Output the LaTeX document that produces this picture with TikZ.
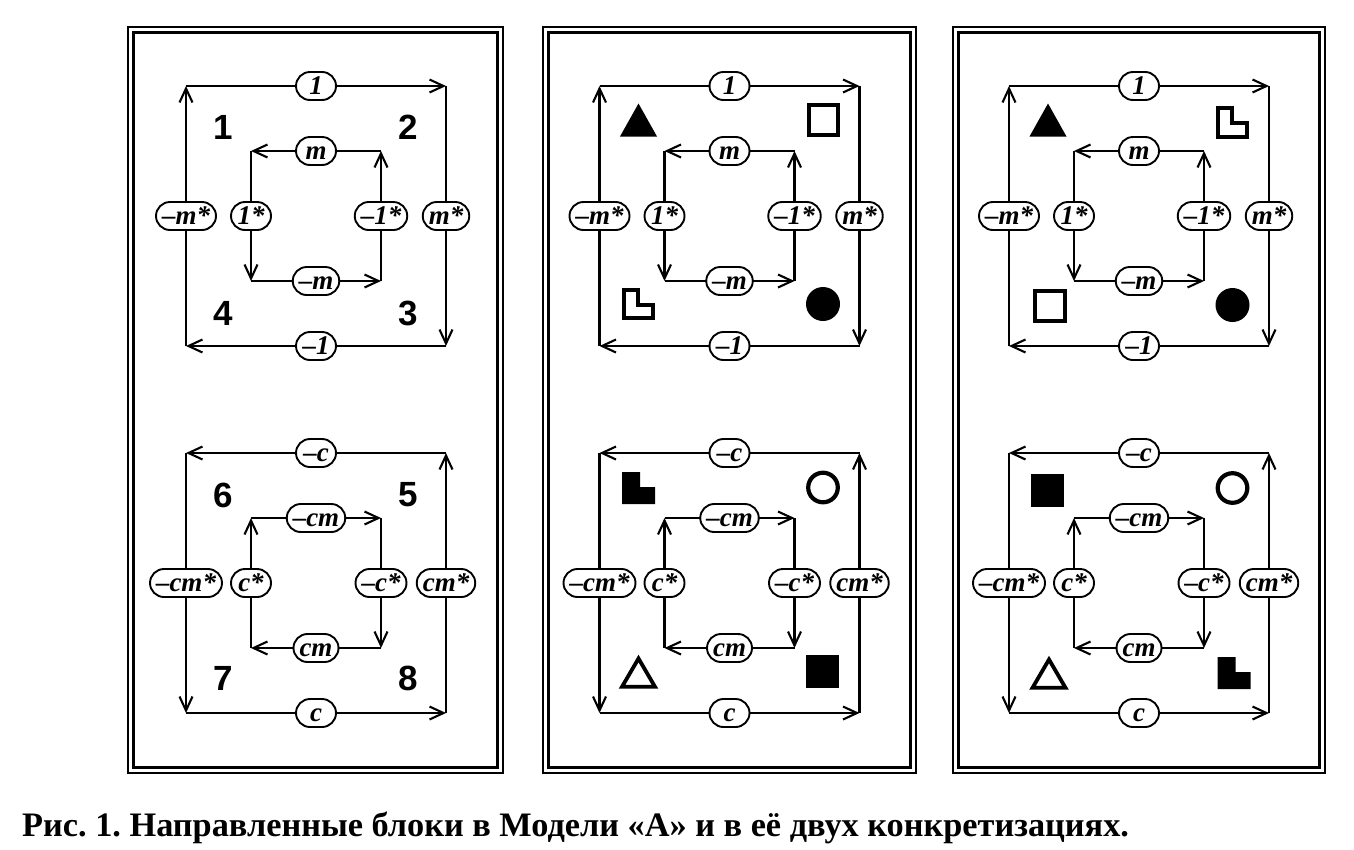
\documentclass[tikz,border=0pt]{standalone}
\usepackage{fontspec}
\setmainfont{Liberation Serif}
\newfontfamily\numfont{Liberation Sans}
\usetikzlibrary{arrows.meta}
\frenchspacing
\tikzset{
  arr/.style={line width=2.1pt, -{Straight Barb[length=14pt,width=13pt]}},
  pill/.style={draw, line width=1.9pt, fill=white, rectangle, rounded corners=14pt,
    minimum height=28pt, minimum width=40pt, inner xsep=6pt, inner ysep=0pt,
    text height=18pt, text depth=2pt,
    font=\fontsize{27}{27}\selectfont\bfseries\itshape},
  bignum/.style={font=\numfont\bfseries\fontsize{35}{35}\selectfont, inner sep=0pt},
  frameout/.style={line width=2.6pt},
  framein/.style={line width=2.1pt},
  openshape/.style={line width=3.8pt, line join=miter},
}
% shapes (local coordinates, y downward)
\newcommand{\trifill}[2]{\fill (#1-18.5,#2+16.5) -- (#1+18.5,#2+16.5) -- (#1,#2-16.5) -- cycle;}
\newcommand{\triopen}[2]{\draw[openshape] (#1-16.5,#2+14.8) -- (#1+16.5,#2+14.8) -- (#1,#2-13.5) -- cycle;}
\newcommand{\sqfill}[2]{\fill (#1-16.5,#2-16.5) rectangle (#1+16.5,#2+16.5);}
\newcommand{\sqopen}[2]{\draw[openshape] (#1-14.8,#2-14.8) rectangle (#1+14.8,#2+14.8);}
\newcommand{\cirfill}[2]{\fill (#1,#2) circle (17);}
\newcommand{\ciropen}[2]{\draw[line width=4.2pt] (#1,#2) circle (14.8);}
\newcommand{\Lfill}[2]{\fill (#1-16.5,#2-16) -- (#1+1.5,#2-16) -- (#1+1.5,#2-1) -- (#1+16.5,#2-1) -- (#1+16.5,#2+16) -- (#1-16.5,#2+16) -- cycle;}
\newcommand{\Lopen}[2]{\draw[openshape] (#1-14.8,#2-14.3) -- (#1-0.2,#2-14.3) -- (#1-0.2,#2+0.7) -- (#1+14.8,#2+0.7) -- (#1+14.8,#2+14.3) -- (#1-14.8,#2+14.3) -- cycle;}
% upper block: #1 prefix, #2 cx, #3 cy
\newcommand{\upblock}[3]{%
  \begin{scope}[shift={(#2,#3)}]
    \coordinate (#1a) at (-130,-130); \coordinate (#1b) at (130,-130);
    \coordinate (#1c) at (130,130);   \coordinate (#1d) at (-130,130);
    \coordinate (#1e) at (-65,-65);   \coordinate (#1f) at (65,-65);
    \coordinate (#1g) at (65,65);     \coordinate (#1h) at (-65,65);
    \draw[arr] (#1a) -- node[pill] (#1p1) {1} (#1b);
    \draw[arr] (#1b) -- node[pill] (#1p2) {m*} (#1c);
    \draw[arr] (#1c) -- node[pill] (#1p3) {–1} (#1d);
    \draw[arr] (#1d) -- node[pill] (#1p4) {–m*} (#1a);
    \draw[arr] (#1f) -- node[pill] (#1p5) {m} (#1e);
    \draw[arr] (#1e) -- node[pill] (#1p6) {1*} (#1h);
    \draw[arr] (#1h) -- node[pill] (#1p7) {–m} (#1g);
    \draw[arr] (#1g) -- node[pill] (#1p8) {–1*} (#1f);
  \end{scope}}
\newcommand{\lowblock}[3]{%
  \begin{scope}[shift={(#2,#3)}]
    \coordinate (#1a) at (-130,-130); \coordinate (#1b) at (130,-130);
    \coordinate (#1c) at (130,130);   \coordinate (#1d) at (-130,130);
    \coordinate (#1e) at (-65,-65);   \coordinate (#1f) at (65,-65);
    \coordinate (#1g) at (65,65);     \coordinate (#1h) at (-65,65);
    \draw[arr] (#1b) -- node[pill] (#1p1) {–c} (#1a);
    \draw[arr] (#1a) -- node[pill] (#1p2) {–cm*} (#1d);
    \draw[arr] (#1d) -- node[pill] (#1p3) {c} (#1c);
    \draw[arr] (#1c) -- node[pill] (#1p4) {cm*} (#1b);
    \draw[arr] (#1e) -- node[pill] (#1p5) {–cm} (#1f);
    \draw[arr] (#1f) -- node[pill] (#1p6) {–c*} (#1g);
    \draw[arr] (#1g) -- node[pill] (#1p7) {cm} (#1h);
    \draw[arr] (#1h) -- node[pill] (#1p8) {c*} (#1e);
  \end{scope}}
\begin{document}
\begin{tikzpicture}[x=1pt,y=-1pt]
\useasboundingbox[fill=white] (0,0) rectangle (1354,849);
% frames
\draw[frameout] (128,27) rectangle (503,773);
\draw[framein] (133.5,32.5) rectangle (497.5,767.5);
\draw[frameout] (543,27) rectangle (916,773);
\draw[framein] (548.5,32.5) rectangle (910.5,767.5);
\draw[frameout] (953,27) rectangle (1325,773);
\draw[framein] (958.5,32.5) rectangle (1319.5,767.5);
% panel 1
\upblock{A}{316}{216}
\lowblock{B}{316}{583}
\node[bignum] (n1) at (223,127) {1};
\node[bignum] (n2) at (408,127) {2};
\node[bignum] (n4) at (223,313) {4};
\node[bignum] (n3) at (408,313) {3};
\node[bignum] (n6) at (223,495) {6};
\node[bignum] (n5) at (408,495) {5};
\node[bignum] (n7) at (223,678) {7};
\node[bignum] (n8) at (408,678) {8};
% panel 2
\upblock{C}{729.5}{216}
\lowblock{D}{729.5}{583}
\trifill{638.5}{120}
\sqopen{823.5}{120}
\Lopen{638.5}{304}
\cirfill{823}{304}
\Lfill{638.5}{488}
\ciropen{823}{487.5}
\triopen{638.5}{672}
\sqfill{822.5}{671.5}
% panel 3
\upblock{E}{1139}{216}
\lowblock{F}{1139}{583}
\trifill{1048}{120}
\Lopen{1232.5}{122.5}
\sqopen{1050}{306}
\cirfill{1232.5}{305}
\sqfill{1047.5}{490}
\ciropen{1232.5}{488}
\triopen{1049}{673}
\Lfill{1234}{673}
% caption
\node[anchor=base west, inner sep=0pt, font=\bfseries\fontsize{34.3}{34.3}\selectfont] (cap) at (22,836)
  {Рис. 1. Направленные блоки в Модели «А» и в её двух конкретизациях.};
\end{tikzpicture}
\end{document}
